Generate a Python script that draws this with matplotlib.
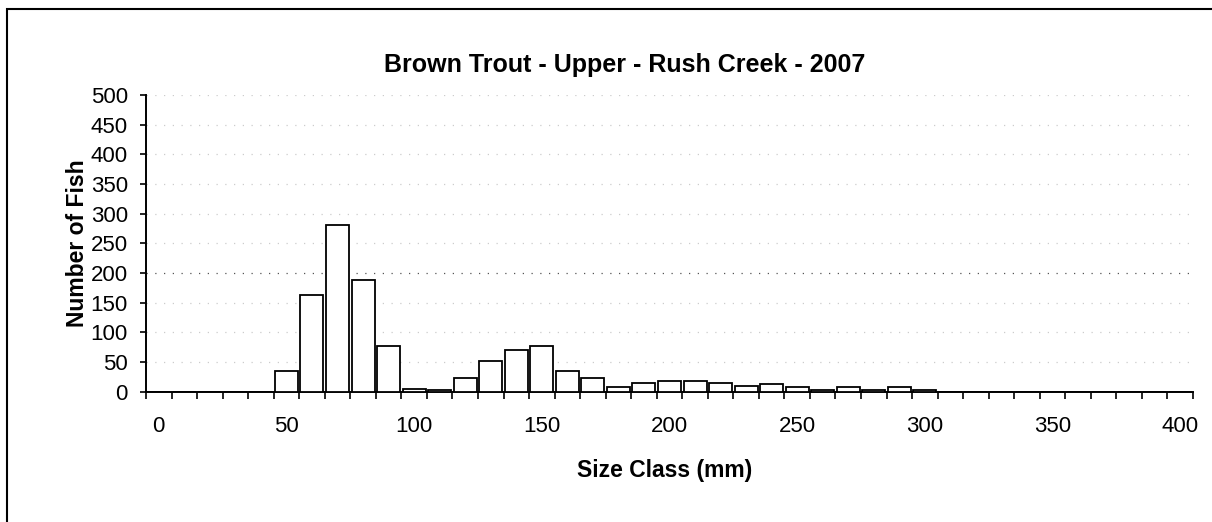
import numpy as np
import matplotlib.pyplot as plt
from matplotlib.patches import Rectangle

plt.rcParams['font.family'] = ['Liberation Sans', 'DejaVu Sans']

# Size classes (mm) and number of fish in each
size_classes = list(range(0, 410, 10))
counts = [0, 0, 0, 0, 0,
          35, 163, 280, 188, 77,
          5, 2, 23, 52, 70,
          77, 35, 23, 7, 14,
          17, 17, 14, 10, 13,
          7, 3, 7, 3, 7,
          2, 0, 0, 0, 0,
          0, 0, 0, 0, 0, 0]
y_ticks = list(range(0, 550, 50))

fig = plt.figure(figsize=(12.12, 5.22), dpi=100)
ax = fig.add_axes([146 / 1212, 130.5 / 522, 1047 / 1212, 296.5 / 522])

pos = np.arange(len(size_classes))
ax.bar(pos, counts, width=0.9, color='white', edgecolor='black', linewidth=1.3, zorder=3)

# faint dotted grid, the 200 line came through the scan stronger
for v in y_ticks[1:]:
    c = '#555555' if v == 200 else '#cccccc'
    ax.axhline(v, color=c, linestyle=(0, (1, 6)), linewidth=0.9, zorder=1)

ax.set_xlim(-0.5, len(size_classes) - 0.5)
ax.set_ylim(0, 500)
ax.set_yticks(y_ticks)

# labels every 50 mm, tick marks on category boundaries
lab_pos = [i for i, s in enumerate(size_classes) if s % 50 == 0]
ax.set_xticks(lab_pos)
ax.set_xticklabels([str(size_classes[i]) for i in lab_pos])
ax.set_xticks(np.arange(-0.5, len(size_classes)), minor=True)
ax.tick_params(axis='x', which='major', length=0, pad=18, labelsize=16)
ax.tick_params(axis='x', which='minor', direction='out', length=5, width=1.2)
ax.tick_params(axis='y', direction='out', length=4, width=1.2, pad=9, labelsize=16)

for s in ['top', 'right']:
    ax.spines[s].set_visible(False)
ax.spines['left'].set_linewidth(1.4)
ax.spines['bottom'].set_linewidth(1.4)

ax.set_xlabel('Size Class (mm)', fontsize=16.5, fontweight='bold')
ax.xaxis.set_label_coords((665 - 146) / 1047, (391.5 - 459) / 296.5)
ax.set_ylabel('Number of Fish', fontsize=16.5, fontweight='bold', va='center')
ax.yaxis.set_label_coords((78 - 146) / 1047, 0.5)
fig.text(625 / 1212, 1 - 65 / 522, 'Brown Trout - Upper - Rush Creek - 2007',
         ha='center', va='center', fontsize=18, fontweight='bold')

# chart frame, clipped at the right and bottom like the scan
fig.patches.append(Rectangle((7 / 1212, -0.1), 1.2, 1 - 9 / 522 + 0.1,
                             transform=fig.transFigure, fill=False,
                             edgecolor='black', linewidth=1.5))

fig.savefig('out.png', dpi=100)
